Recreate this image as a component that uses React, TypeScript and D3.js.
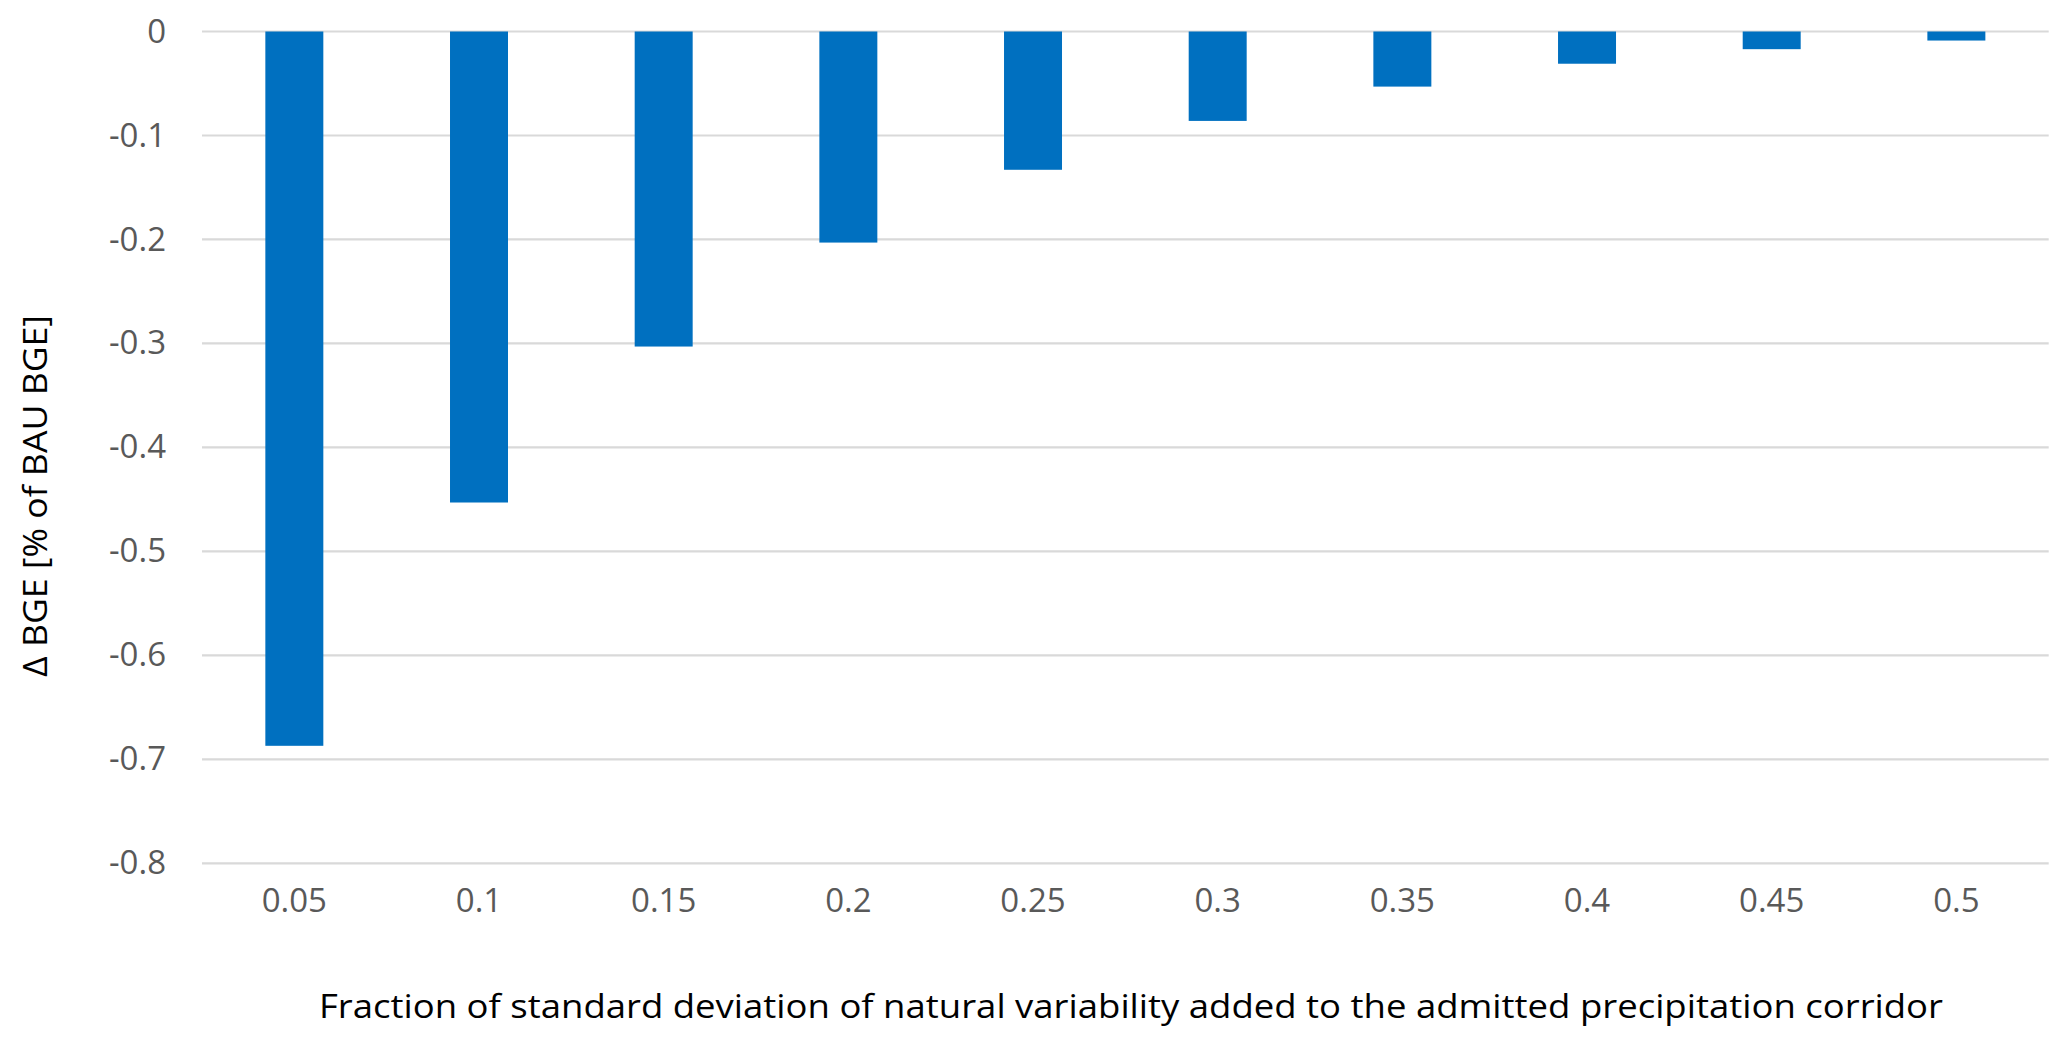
import React, { useEffect, useRef } from "react";
import * as d3 from "d3";

// x categories (fraction of std dev)
const fractions: string[] = ["0.05", "0.1", "0.15", "0.2", "0.25", "0.3", "0.35", "0.4", "0.45", "0.5"];

// Δ BGE values
const deltaBGE: number[] = [-0.687, -0.453, -0.303, -0.203, -0.133, -0.086, -0.053, -0.031, -0.017, -0.0087];

const yTicks: number[] = [0, -0.1, -0.2, -0.3, -0.4, -0.5, -0.6, -0.7, -0.8];

const xTitle = "Fraction of standard deviation of natural variability added to the admitted precipitation corridor";
const yTitle = "Δ BGE [% of BAU BGE]";

export default function App() {
    const svgRef = useRef<SVGSVGElement | null>(null);

    const width = 2067;
    const height = 1044;

    function drawChart(svgNode: SVGSVGElement) {
        const svg = d3.select(svgNode);
        svg.selectAll("*").remove();

        const margin = { top: 31.5, right: 18.3, bottom: 180.7, left: 202 };
        const font = "'Open Sans', sans-serif";

        const x = d3.scaleBand<string>()
            .domain(fractions)
            .range([margin.left, width - margin.right])
            .paddingInner(0.686)
            .paddingOuter(0.343);

        const y = d3.scaleLinear()
            .domain([-0.8, 0])
            .range([height - margin.bottom, margin.top]);

        // gridlines
        svg.append("g")
            .selectAll("line")
            .data(yTicks)
            .join("line")
            .attr("x1", margin.left)
            .attr("x2", width - margin.right)
            .attr("y1", d => y(d))
            .attr("y2", d => y(d))
            .attr("stroke", "#d9d9d9")
            .attr("stroke-width", 2.2);

        // y axis labels
        const yAxis = d3.axisLeft(y)
            .tickValues(yTicks)
            .tickSize(0)
            .tickPadding(36);

        const yAxisGroup = svg.append("g")
            .attr("transform", `translate(${margin.left},0)`)
            .call(yAxis);
        yAxisGroup.select(".domain").remove();
        yAxisGroup.selectAll("text")
            .attr("fill", "#595959")
            .attr("font-family", font)
            .attr("font-size", 33)
            .text(d => (d as number) === 0 ? "0" : (d as number).toFixed(1));

        // x axis labels
        const xAxis = d3.axisBottom(x)
            .tickSize(0)
            .tickPadding(25);

        const xAxisGroup = svg.append("g")
            .attr("transform", `translate(0,${y(-0.8)})`)
            .call(xAxis);
        xAxisGroup.select(".domain").remove();
        xAxisGroup.selectAll("text")
            .attr("fill", "#595959")
            .attr("font-family", font)
            .attr("font-size", 33);

        // bars
        svg.append("g")
            .selectAll("rect")
            .data(deltaBGE)
            .join("rect")
            .attr("x", (d, i) => x(fractions[i])!)
            .attr("y", y(0))
            .attr("width", x.bandwidth())
            .attr("height", d => y(d) - y(0))
            .attr("fill", "#0070c0");

        // axis titles
        svg.append("text")
            .attr("x", 1131)
            .attr("y", 1018)
            .attr("text-anchor", "middle")
            .attr("font-family", font)
            .attr("font-size", 33)
            .attr("fill", "#000")
            .attr("textLength", 1624)
            .attr("lengthAdjust", "spacingAndGlyphs")
            .text(xTitle);

        svg.append("text")
            .attr("transform", `translate(47,496) rotate(-90)`)
            .attr("text-anchor", "middle")
            .attr("font-family", font)
            .attr("font-size", 33)
            .attr("fill", "#000")
            .attr("textLength", 362)
            .attr("lengthAdjust", "spacingAndGlyphs")
            .text(yTitle);
    }

    useEffect(() => {
        document.body.style.margin = "0";
        if (!svgRef.current) return;
        drawChart(svgRef.current);
    }, []);

    return (
        <div style={{ width: `${width}px`, height: `${height}px`, background: "#fff" }}>
            <svg
                ref={svgRef}
                width={width}
                height={height}
                style={{ display: "block" }}
            />
        </div>
    );
}
